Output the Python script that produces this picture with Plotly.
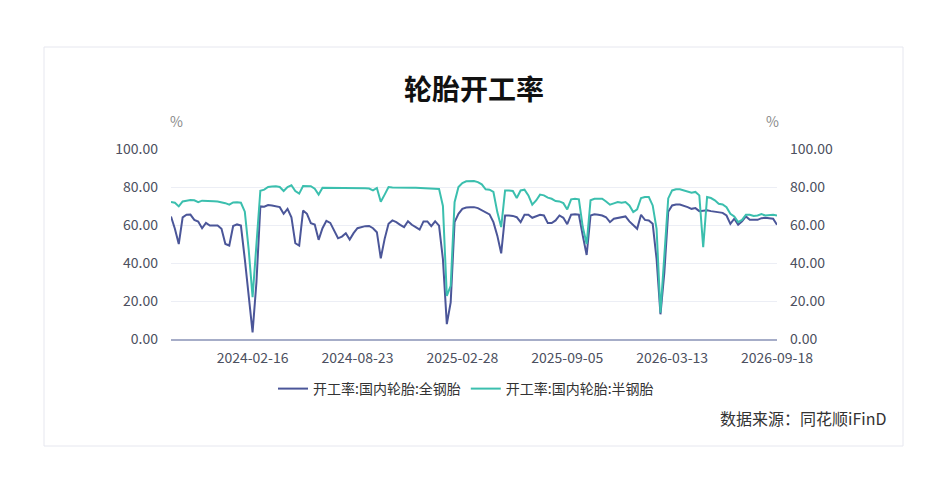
import pandas as pd
import plotly.graph_objects as go

# ---------------- data ----------------
start_date = "2023-09-22"
n_weeks = 157

all_steel = [
    64.5, 58.0, 50.0, 64.0, 65.4, 65.5, 62.7, 61.8, 58.3, 61.1,
    59.7, 59.7, 59.7, 58.0, 50.0, 49.2, 59.5, 60.3, 59.7, 42.0,
    21.0, 3.5, 30.0, 69.8, 69.6, 70.5, 70.3, 70.0, 69.4, 65.9,
    68.5, 64.1, 50.4, 49.2, 67.6, 65.9, 61.0, 60.3, 52.2, 58.3,
    62.2, 61.1, 57.1, 53.0, 53.9, 55.7, 52.3, 55.7, 58.3, 58.9,
    59.4, 59.5, 58.3, 56.2, 42.5, 52.7, 60.6, 62.4, 61.5, 60.1,
    58.9, 62.0, 60.1, 58.9, 57.6, 61.9, 61.9, 59.4, 61.9, 59.7,
    42.0, 7.8, 19.3, 61.5, 65.9, 68.5, 69.2, 69.4, 69.4, 68.9,
    67.7, 66.4, 65.6, 61.5, 54.4, 45.1, 65.0, 65.0, 64.8, 64.1,
    61.5, 65.4, 65.4, 63.8, 64.7, 65.4, 65.0, 61.0, 61.0, 62.4,
    65.0, 63.8, 60.4, 65.4, 65.6, 65.4, 54.4, 44.2, 65.0, 65.6,
    65.4, 65.0, 64.1, 61.5, 63.3, 63.6, 64.0, 64.5, 61.9, 59.7,
    58.0, 65.4, 62.7, 62.4, 60.6, 42.1, 13.0, 35.1, 67.0, 70.3,
    70.8, 70.8, 70.3, 69.4, 68.5, 68.9, 67.3, 67.5, 67.7, 67.3,
    67.1, 66.8, 66.4, 65.0, 60.6, 63.3, 60.1, 61.9, 64.5, 62.7,
    62.7, 62.7, 63.6, 63.8, 63.6, 63.3, 60.1,
]

semi_steel = [
    72.1, 71.7, 69.8, 72.4, 72.8, 73.1, 73.0, 72.0, 72.8, 72.6,
    72.5, 72.5, 72.4, 72.0, 71.5, 70.7, 71.9, 72.0, 71.7, 67.0,
    47.0, 22.0, 52.7, 78.0, 78.6, 80.0, 80.2, 80.4, 80.0, 77.9,
    80.0, 80.9, 77.9, 76.5, 80.5, 80.5, 80.4, 79.1, 76.0, 79.6,
    79.6, 79.5, 79.5, 79.5, 79.5, 79.5, 79.5, 79.5, 79.4, 79.4,
    79.4, 79.2, 78.2, 79.5, 72.2, 76.0, 80.0, 79.8, 79.7, 79.7,
    79.6, 79.6, 79.6, 79.6, 79.5, 79.5, 79.4, 79.1, 79.2, 79.0,
    70.0, 22.7, 28.0, 72.0, 80.0, 82.1, 83.0, 83.2, 83.2, 82.6,
    81.4, 78.8, 78.6, 77.4, 66.8, 58.9, 78.2, 78.2, 77.9, 74.2,
    78.2, 78.6, 75.6, 70.7, 72.9, 76.0, 75.6, 74.4, 73.8, 72.6,
    72.4, 71.5, 68.2, 73.5, 73.8, 73.5, 58.9, 50.0, 73.0, 73.8,
    73.8, 73.8, 72.4, 70.7, 71.4, 72.1, 71.7, 72.1, 70.3, 66.8,
    68.2, 74.2, 74.7, 74.7, 70.3, 58.0, 13.9, 42.1, 74.0, 78.2,
    78.8, 78.8, 78.3, 77.5, 77.0, 77.4, 75.6, 48.3, 74.7, 74.2,
    73.0, 71.2, 70.8, 69.4, 65.9, 64.5, 61.5, 62.7, 65.4, 65.4,
    64.7, 65.0, 65.7, 65.0, 65.2, 65.4, 65.0,
]

x_tick_labels = ["2024-02-16", "2024-08-23", "2025-02-28",
                 "2025-09-05", "2026-03-13", "2026-09-18"]
y_tick_values = [0, 20, 40, 60, 80, 100]

series_names = ["开工率:国内轮胎:全钢胎", "开工率:国内轮胎:半钢胎"]
title_text = "轮胎开工率"
source_text = "数据来源：同花顺iFinD"
unit_text = "%"

assert len(all_steel) == n_weeks and len(semi_steel) == n_weeks
dates = pd.date_range(start_date, periods=n_weeks, freq="7D")

# ---------------- figure ----------------
# the page body has an 8px margin, so the figure is placed at (8, 8)
OFF = 8
W, H = 949 - OFF, 502 - OFF
L, R = 171 - OFF, 777 - OFF
T, B = 149 - OFF, 339 - OFF
pw, ph = R - L, B - T

def px_x(x):
    return (x - OFF - L) / pw

def px_y(y):
    return (B - (y - OFF)) / ph

FONT = "Noto Sans CJK SC, Microsoft YaHei, sans-serif"
BLUE = "#4b5699"
TEAL = "#3bbfae"
TICK_COLOR = "#4c5060"

fig = go.Figure()
fig.add_trace(go.Scatter(x=dates, y=all_steel, name=series_names[0], mode="lines",
                         line=dict(color=BLUE, width=2), yaxis="y"))
fig.add_trace(go.Scatter(x=dates, y=semi_steel, name=series_names[1], mode="lines",
                         line=dict(color=TEAL, width=2), yaxis="y2"))

fig.update_layout(
    width=W, height=H,
    margin=dict(l=L, r=W - R, t=T, b=H - B, pad=0),
    paper_bgcolor="white", plot_bgcolor="white",
    font=dict(family=FONT, color=TICK_COLOR, size=14),
    title=dict(text=f"<b>{title_text}</b>", x=(L + R) / 2 / W, xanchor="center",
               y=1 - (90 - OFF) / H, yanchor="middle", yref="container",
               font=dict(family=FONT, size=28, color="#111111")),
    showlegend=True,
    legend=dict(orientation="h", x=px_x(466), xanchor="center", y=px_y(389), yanchor="middle",
                font=dict(family=FONT, size=14, color="#333333"),
                itemwidth=30, bgcolor="rgba(0,0,0,0)", tracegroupgap=0),
    xaxis=dict(
        type="date",
        range=[dates[0], dates[-1]],
        tickvals=x_tick_labels, ticktext=x_tick_labels,
        showgrid=False, zeroline=False,
        showline=True, linecolor="#a6adc8", linewidth=2,
        ticks="", ticklabelstandoff=5,
        tickfont=dict(size=14, color=TICK_COLOR),
    ),
    yaxis=dict(
        range=[0, 100], tickvals=y_tick_values, tickformat=".2f",
        showgrid=True, gridcolor="#eceef5", gridwidth=1,
        zeroline=False, showline=False, ticks="", ticklabelstandoff=12,
        tickfont=dict(size=14, color=TICK_COLOR),
    ),
    yaxis2=dict(
        range=[0, 100], tickvals=y_tick_values, tickformat=".2f",
        overlaying="y", side="right", anchor="x",
        showgrid=False, zeroline=False, showline=False, ticks="", ticklabelstandoff=12,
        tickfont=dict(size=14, color=TICK_COLOR),
    ),
)

# frame around the whole chart
fig.add_shape(type="rect", xref="paper", yref="paper",
              x0=px_x(44), x1=px_x(903), y0=px_y(446), y1=px_y(47),
              line=dict(color="#e6e7ef", width=1), fillcolor="rgba(0,0,0,0)", layer="below")

# unit labels
for xx in (176, 772):
    fig.add_annotation(text=unit_text, xref="paper", yref="paper",
                       x=px_x(xx), y=px_y(121), xanchor="center", yanchor="middle",
                       showarrow=False, font=dict(family=FONT, size=14, color="#8a8a8a"))

# source
fig.add_annotation(text=source_text, xref="paper", yref="paper",
                   x=px_x(888), y=px_y(418), xanchor="right", yanchor="middle",
                   showarrow=False, font=dict(family=FONT, size=16, color="#333333"))

fig.write_html("out.html")
